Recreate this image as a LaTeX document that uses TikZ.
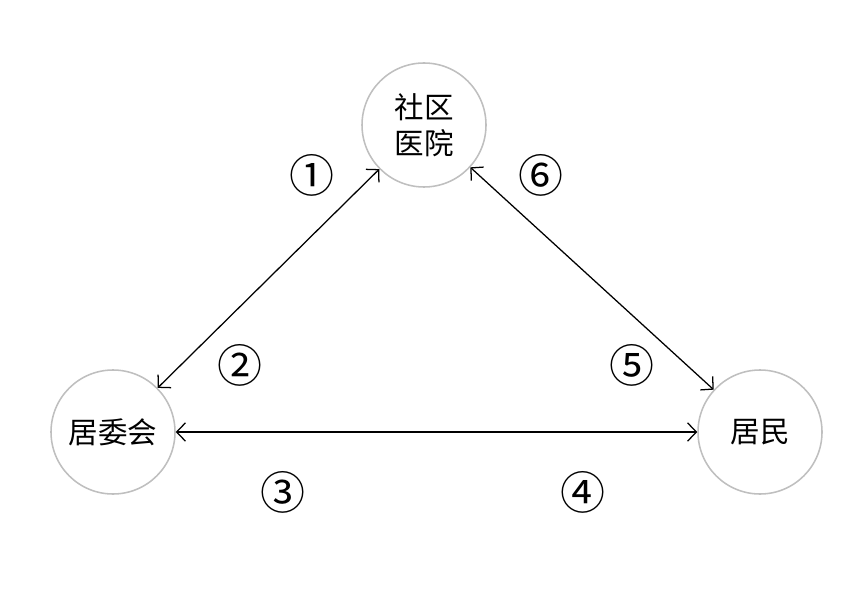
\documentclass[tikz,border=0pt]{standalone}
\usepackage{fontspec}
\newfontfamily\cjk{Noto Sans CJK SC}
\usetikzlibrary{arrows.meta}

\begin{document}
\begin{tikzpicture}[
    party/.style={circle, draw=gray!50, line width=1.1pt, minimum size=3.1cm,
      inner sep=0pt, align=center, font=\cjk\fontsize{21}{26}\selectfont},
    link/.style={{Straight Barb[length=2.2mm,width=4.6mm]}-{Straight Barb[length=2.2mm,width=4.6mm]},
      line width=0.9pt},
    tag/.style={font=\cjk\fontsize{32}{32}\selectfont}
  ]
  \useasboundingbox (0,0) rectangle (21.6,-15.075);

  % Parties
  \node[party] (hosp) at (10.6,-3.125) {社区\\医院};
  \node[party] (comm) at (2.825,-10.8) {居委会};
  \node[party] (res) at (19.0,-10.8) {居民};

  % Links
  \draw[link] (comm) -- (hosp);
  \draw[link] (hosp) -- (res);
  \draw[link] (comm) -- (res);

  % Step numbers
  \node[tag] (n1) at (7.8,-4.375) {①};
  \node[tag] (n2) at (6.0,-9.125) {②};
  \node[tag] (n3) at (7.075,-12.3) {③};
  \node[tag] (n4) at (14.575,-12.3) {④};
  \node[tag] (n5) at (15.8,-9.125) {⑤};
  \node[tag] (n6) at (13.525,-4.375) {⑥};
\end{tikzpicture}
\end{document}
